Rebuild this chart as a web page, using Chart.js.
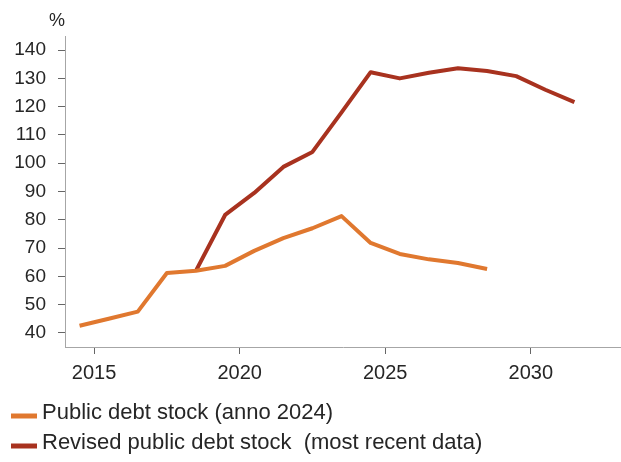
<!DOCTYPE html>
<html>
<head>
<meta charset="utf-8">
<script src="https://cdn.jsdelivr.net/npm/chart.js@4/dist/chart.umd.min.js"></script>
<style>
  html, body { margin: 0; padding: 0; background: #fff; }
  #wrap { width: 621px; height: 462px; }
</style>
</head>
<body>
<div id="wrap"><canvas id="debtChart" width="621" height="462"></canvas></div>
<script>
const years = [2014, 2015, 2016, 2017, 2018, 2019, 2020, 2021, 2022, 2023, 2024, 2025, 2026, 2027, 2028, 2029, 2030, 2031];

// debt stock, % of GDP
const debt2024 = [42.5, 45, 47.5, 61.2, 62, 63.7, 69, 73.5, 77, 81.3, 71.8, 67.9, 66, 64.7, 62.6];
const debtRevised = [null, null, null, null, 62, 81.7, 89.5, 98.7, 104, 118, 132.2, 130, 132, 133.6, 132.6, 130.8, 126, 121.6];

const yTicks = [40, 50, 60, 70, 80, 90, 100, 110, 120, 130, 140];
const xTicks = [2015, 2020, 2025, 2030];

const textColor = '#262626';
const font = 'Liberation Sans, Arial, sans-serif';

// each yearly value sits in the middle of its year
function toPoints(values) {
  const pts = [];
  values.forEach((v, i) => {
    if (v !== null) pts.push({ x: years[i] + 0.5, y: v });
  });
  return pts;
}

const percentLabel = {
  id: 'percentLabel',
  afterDraw(chart) {
    const c = chart.ctx;
    c.save();
    c.font = '18px ' + font;
    c.fillStyle = textColor;
    c.textAlign = 'center';
    c.textBaseline = 'middle';
    c.fillText('%', chart.chartArea.left - 8, 21);
    c.restore();
  }
};

const lineLegend = {
  id: 'lineLegend',
  afterDraw(chart) {
    const c = chart.ctx;
    c.save();
    c.font = '22px ' + font;
    c.textBaseline = 'middle';
    chart.data.datasets.forEach((ds, i) => {
      const y = 413 + i * 30;
      c.strokeStyle = ds.borderColor;
      c.lineWidth = 5;
      c.beginPath();
      c.moveTo(11, y + 3);
      c.lineTo(37, y + 3);
      c.stroke();
      c.fillStyle = textColor;
      c.fillText(ds.label, 42, y);
    });
    c.restore();
  }
};

const ctx = document.getElementById('debtChart').getContext('2d');

new Chart(ctx, {
  type: 'line',
  data: {
    datasets: [
      {
        label: 'Public debt stock (anno 2024)',
        data: toPoints(debt2024),
        borderColor: '#e0782f',
        borderWidth: 4,
        pointRadius: 0,
        fill: false,
      },
      {
        label: 'Revised public debt stock  (most recent data)',
        data: toPoints(debtRevised),
        borderColor: '#a8321f',
        borderWidth: 4,
        pointRadius: 0,
        fill: false,
      },
    ],
  },
  options: {
    responsive: false,
    animation: false,
    borderJoinStyle: 'round',
    layout: { padding: { top: 36, right: 0, bottom: 75, left: 0 } },
    plugins: {
      legend: { display: false },
      tooltip: { enabled: false },
    },
    scales: {
      x: {
        type: 'linear',
        min: 2014,
        max: 2033.1,
        afterBuildTicks: (scale) => { scale.ticks = xTicks.map(v => ({ value: v })); },
        afterFit: (scale) => { scale.height = 40; },
        border: { display: true, color: '#a6a6a6', width: 1 },
        grid: { drawOnChartArea: false, drawTicks: true, tickLength: 7, tickColor: '#666' },
        ticks: {
          color: textColor,
          font: { family: font, size: 20 },
          padding: 7,
          maxRotation: 0,
          callback: (v) => String(v),
        },
      },
      y: {
        min: 35,
        max: 145,
        afterBuildTicks: (scale) => { scale.ticks = yTicks.map(v => ({ value: v })); },
        afterFit: (scale) => { scale.width = 65; },
        border: { display: true, color: '#a6a6a6', width: 1 },
        grid: { drawOnChartArea: false, drawTicks: true, tickLength: 7, tickColor: '#666' },
        ticks: {
          color: textColor,
          font: { family: font, size: 19 },
          padding: 12,
        },
      },
    },
  },
  plugins: [percentLabel, lineLegend],
});
</script>
</body>
</html>
